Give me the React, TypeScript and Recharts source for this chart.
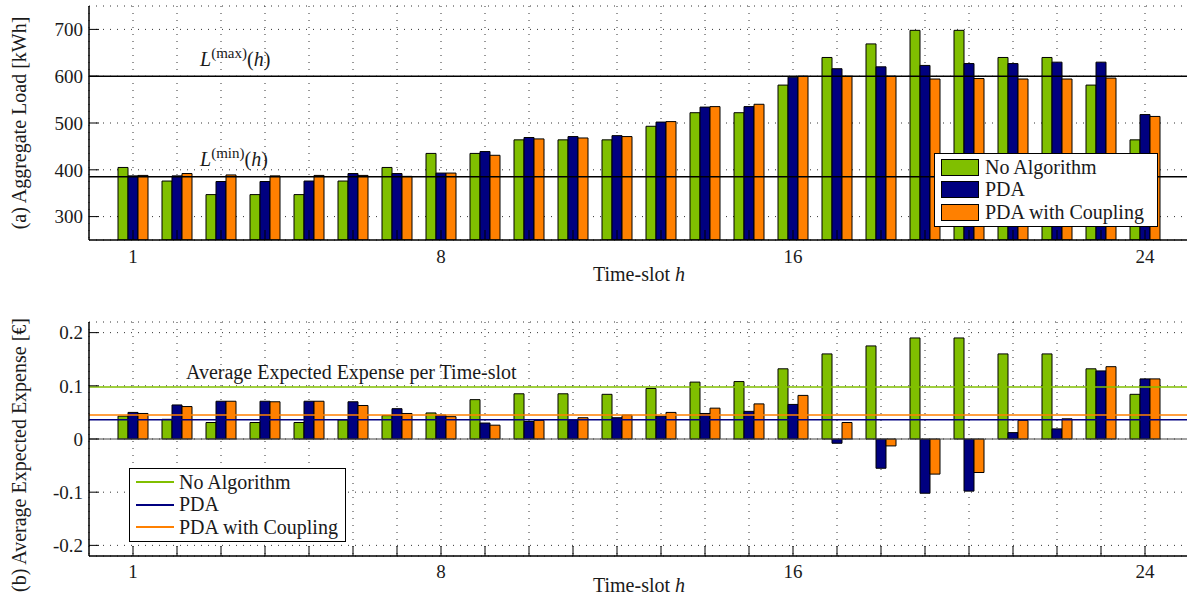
import { BarChart, Bar, XAxis, YAxis, CartesianGrid, ReferenceLine, Legend } from "recharts";

const FONT = "'Liberation Serif', 'DejaVu Serif', serif";
const FS = 20;
const TICK_FS = 19;
const INK = "#1a1a1a";
const GREEN = "#80bf00";
const NAVY = "#000080";
const ORANGE = "#ff8000";

const HOURS = [1, 2, 3, 4, 5, 6, 7, 8, 9, 10, 11, 12, 13, 14, 15, 16, 17, 18, 19, 20, 21, 22, 23, 24];
const LABELED_HOURS = [1, 8, 16, 24];

// (a) aggregate load per time-slot [kWh]
const LOAD_NO_ALG = [405, 376, 347, 347, 347, 376, 405, 435, 435, 464, 464, 464, 493, 522, 522, 581, 640, 669, 698, 698, 640, 640, 581, 464];
const LOAD_PDA = [387, 387, 375, 375, 376, 392, 392, 393, 439, 469, 471, 473, 502, 534, 535, 598, 616, 620, 623, 627, 627, 630, 630, 518];
const LOAD_COUPLING = [388, 392, 389, 387, 388, 388, 386, 393, 431, 466, 468, 471, 503, 535, 540, 600, 600, 600, 594, 595, 594, 594, 596, 514];
const LOAD_TICKS = [300, 400, 500, 600, 700];
const L_MAX = 600;
const L_MIN = 385;

// (b) average expected expense per time-slot [€]
const COST_NO_ALG = [0.043, 0.037, 0.031, 0.031, 0.031, 0.036, 0.044, 0.049, 0.074, 0.085, 0.085, 0.084, 0.095, 0.107, 0.108, 0.132, 0.16, 0.175, 0.19, 0.19, 0.16, 0.16, 0.132, 0.084];
const COST_PDA = [0.05, 0.064, 0.071, 0.071, 0.071, 0.07, 0.057, 0.045, 0.03, 0.033, 0.036, 0.04, 0.043, 0.048, 0.052, 0.065, -0.008, -0.055, -0.102, -0.098, 0.012, 0.019, 0.128, 0.113];
const COST_COUPLING = [0.048, 0.061, 0.071, 0.07, 0.071, 0.063, 0.048, 0.042, 0.026, 0.035, 0.04, 0.045, 0.05, 0.058, 0.066, 0.082, 0.031, -0.013, -0.066, -0.063, 0.035, 0.038, 0.136, 0.113];
const COST_TICKS = [-0.2, -0.1, 0, 0.1, 0.2];
const AVG_NO_ALG = 0.098;
const AVG_PDA = 0.036;
const AVG_COUPLING = 0.045;

const SERIES = [
  { key: "noAlg", name: "No Algorithm", color: GREEN },
  { key: "pda", name: "PDA", color: NAVY },
  { key: "coupling", name: "PDA with Coupling", color: ORANGE },
];

const loadData = HOURS.map((h, i) => ({ h, noAlg: LOAD_NO_ALG[i], pda: LOAD_PDA[i], coupling: LOAD_COUPLING[i] }));
const costData = HOURS.map((h, i) => ({ h, noAlg: COST_NO_ALG[i], pda: COST_PDA[i], coupling: COST_COUPLING[i] }));

const tickFont = { fill: INK, fontSize: TICK_FS, fontFamily: FONT };
const axisLine = { stroke: "#000", strokeWidth: 1.5 };
const tickLine = { stroke: "#000", strokeWidth: 1 };
const hourLabel = (v: number) => (LABELED_HOURS.includes(v) ? String(v) : "");
const blank = () => "";

function XTitle({ viewBox, dy }: any) {
  return (
    <text x={viewBox.x + viewBox.width / 2} y={viewBox.y + dy} textAnchor="middle" fontFamily={FONT} fontSize={FS} fill={INK}>
      Time-slot <tspan fontStyle="italic">h</tspan>
    </text>
  );
}

function YTitle({ viewBox, text, dy = 0 }: any) {
  const cx = viewBox.x - 10;
  const cy = viewBox.y + viewBox.height / 2 + dy;
  return (
    <text x={cx} y={cy} transform={`rotate(-90, ${cx}, ${cy})`} textAnchor="middle" dominantBaseline="central" fontFamily={FONT} fontSize={FS} fill={INK}>
      {text}
    </text>
  );
}

function LimitLabel({ viewBox, sup, dy }: any) {
  return (
    <text x={viewBox.x + 111} y={viewBox.y + dy} fontFamily={FONT} fontSize={FS} fill={INK}>
      <tspan fontStyle="italic">L</tspan>
      <tspan fontSize={15} dy={-8}>({sup})</tspan>
      <tspan dy={8}>(</tspan>
      <tspan fontStyle="italic">h</tspan>
      <tspan>)</tspan>
    </text>
  );
}

function AvgLabel({ viewBox }: any) {
  return (
    <text x={viewBox.x + 97} y={viewBox.y - 8} fontFamily={FONT} fontSize={FS} fill={INK}>
      Average Expected Expense per Time-slot
    </text>
  );
}

function LegendBox({ kind }: { kind: "patch" | "line" }) {
  return (
    <div style={{ border: "1.5px solid #000", background: "#fff", padding: "2px 6px", fontFamily: FONT, fontSize: FS, color: INK }}>
      {SERIES.map((s) => (
        <div key={s.key} style={{ display: "flex", alignItems: "center", height: 22.5 }}>
          {kind === "patch" ? (
            <span style={{ width: 36, height: 15, background: s.color, border: "1px solid #000", marginRight: 6, flex: "none" }} />
          ) : (
            <span style={{ width: 38, height: 2, background: s.color, marginRight: 5, flex: "none" }} />
          )}
          <span style={{ whiteSpace: "nowrap" }}>{s.name}</span>
        </div>
      ))}
    </div>
  );
}

function Bars() {
  return SERIES.map((s) => (
    <Bar key={s.key} dataKey={s.key} name={s.name} fill={s.color} stroke="#000" strokeWidth={1} barSize={10} isAnimationActive={false} />
  ));
}

function LoadChart() {
  return (
    <BarChart width={1200} height={290} data={loadData} margin={{ top: 6, right: 11, bottom: 20, left: 29 }} barGap={0}>
      <CartesianGrid stroke="#333" strokeDasharray="1 6" />
      <XAxis dataKey="h" interval={0} padding={{ left: 22, right: 22 }} tickFormatter={hourLabel} tickSize={-10} tickMargin={20}
        tick={tickFont} axisLine={axisLine} tickLine={tickLine} label={<XTitle dy={41} />} />
      <XAxis xAxisId="top" orientation="top" dataKey="h" interval={0} padding={{ left: 22, right: 22 }} height={0} tickSize={-10}
        tickFormatter={blank} axisLine={axisLine} tickLine={tickLine} />
      <YAxis width={60} domain={[250, 750]} ticks={LOAD_TICKS} interval={0} allowDataOverflow tickSize={-10} tickMargin={16}
        tick={tickFont} axisLine={axisLine} tickLine={tickLine} label={<YTitle text="(a) Aggregate Load [kWh]" />} />
      <YAxis yAxisId="right" orientation="right" width={0} domain={[250, 750]} ticks={LOAD_TICKS} interval={0} allowDataOverflow
        tickSize={-10} tickFormatter={blank} axisLine={axisLine} tickLine={tickLine} />
      <ReferenceLine y={L_MAX} stroke="#000" strokeWidth={1.5} label={<LimitLabel sup="max" dy={-10} />} />
      <ReferenceLine y={L_MIN} stroke="#000" strokeWidth={1.5} label={<LimitLabel sup="min" dy={-11} />} />
      {Bars()}
      <Legend layout="vertical" align="center" verticalAlign="middle" wrapperStyle={{ left: 934, top: 153, width: 224 }}
        content={() => <LegendBox kind="patch" />} />
    </BarChart>
  );
}

function CostChart() {
  return (
    <BarChart width={1200} height={300} data={costData} margin={{ top: 22, right: 11, bottom: 14, left: 29 }} barGap={0}>
      <CartesianGrid stroke="#333" strokeDasharray="1 6" />
      <XAxis dataKey="h" interval={0} padding={{ left: 22, right: 22 }} tickFormatter={hourLabel} tickSize={-10} tickMargin={19}
        tick={tickFont} axisLine={axisLine} tickLine={tickLine} label={<XTitle dy={36} />} />
      <XAxis xAxisId="top" orientation="top" dataKey="h" interval={0} padding={{ left: 22, right: 22 }} height={0} tickSize={-10}
        tickFormatter={blank} axisLine={axisLine} tickLine={tickLine} />
      <YAxis width={60} domain={[-0.22, 0.22]} ticks={COST_TICKS} interval={0} allowDataOverflow tickSize={-10} tickMargin={16}
        tick={tickFont} axisLine={axisLine} tickLine={tickLine} tickFormatter={(v: number) => String(v)}
        label={<YTitle text="(b) Average Expected Expense [€]" dy={16} />} />
      <YAxis yAxisId="right" orientation="right" width={0} domain={[-0.22, 0.22]} ticks={COST_TICKS} interval={0} allowDataOverflow
        tickSize={-10} tickFormatter={blank} axisLine={axisLine} tickLine={tickLine} />
      <ReferenceLine y={0} stroke="#444" strokeWidth={1} />
      <ReferenceLine y={AVG_NO_ALG} stroke={GREEN} strokeWidth={1.5} label={<AvgLabel />} />
      <ReferenceLine y={AVG_COUPLING} stroke={ORANGE} strokeWidth={1.5} />
      <ReferenceLine y={AVG_PDA} stroke={NAVY} strokeWidth={1.5} />
      {Bars()}
      <Legend layout="vertical" align="center" verticalAlign="middle" wrapperStyle={{ left: 129, top: 168, width: 217 }}
        content={() => <LegendBox kind="line" />} />
    </BarChart>
  );
}

export default function App() {
  return (
    <div style={{ position: "absolute", left: 0, top: 0, width: 1187, height: 599, overflow: "hidden", background: "#fff", fontFamily: FONT }}>
      <div style={{ position: "absolute", left: 0, top: 0 }}>
        <LoadChart />
      </div>
      <div style={{ position: "absolute", left: 0, top: 300 }}>
        <CostChart />
      </div>
    </div>
  );
}
